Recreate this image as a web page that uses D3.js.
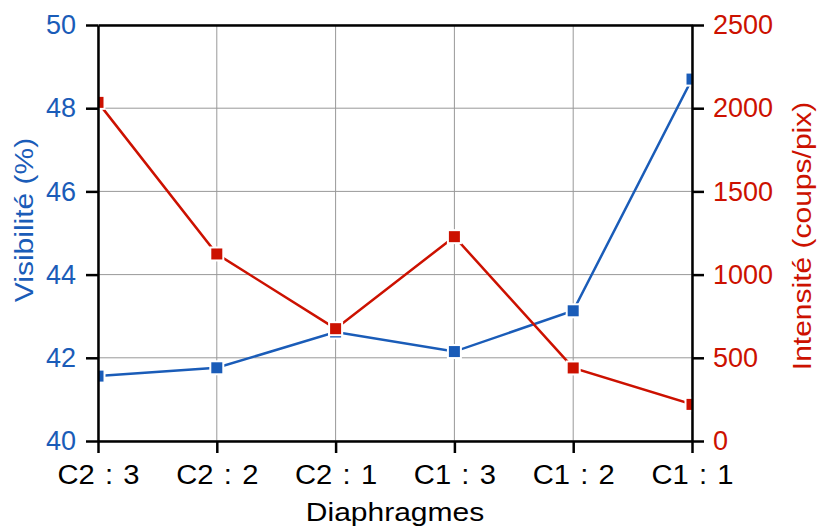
<!DOCTYPE html>
<html><head><meta charset="utf-8">
<script src="https://cdn.jsdelivr.net/npm/d3@7"></script>
<style>body{margin:0;background:#fff}svg{display:block}text{font-family:Arial,"Liberation Sans",sans-serif}</style>
</head><body><svg id="c" width="822" height="529"></svg>
<script>
const categories = ["C2 : 3","C2 : 2","C2 : 1","C1 : 3","C1 : 2","C1 : 1"];
const visibilite = [41.56, 41.76, 42.62, 42.15, 43.13, 48.70];
const intensite = [2035, 1124, 675, 1228, 439, 220];
const leftTicks = [40,42,44,46,48,50];
const rightTicks = [0,500,1000,1500,2000,2500];
const blue = "#1a5cb8", red = "#cc1100";
const svg = d3.select("#c");
const L=98, R=692, T=25, B=441;
const x = d3.scalePoint().domain(categories).range([L,R]);
const yL = d3.scaleLinear().domain([40,50]).range([B,T]);
const yR = d3.scaleLinear().domain([0,2500]).range([B,T]);
// grid
svg.append("g").selectAll("line").data(categories).join("line")
 .attr("x1",d=>x(d)).attr("x2",d=>x(d)).attr("y1",T).attr("y2",B).attr("stroke","#999").attr("stroke-width",1);
svg.append("g").selectAll("line").data(leftTicks).join("line")
 .attr("x1",L).attr("x2",R).attr("y1",d=>yL(d)).attr("y2",d=>yL(d)).attr("stroke","#999").attr("stroke-width",1);
svg.append("clipPath").attr("id","clip").append("rect").attr("x",L).attr("y",T).attr("width",R-L).attr("height",B-T);
const plot = svg.append("g").attr("clip-path","url(#clip)");
function series(vals, y, color){
  const g = plot.append("g");
  g.append("path").datum(vals).attr("fill","none").attr("stroke",color).attr("stroke-width",2.5)
   .attr("d", d3.line().x((d,i)=>x(categories[i])).y(d=>y(d)));
  g.selectAll("rect").data(vals).join("rect")
   .attr("x",(d,i)=>x(categories[i])-6.5).attr("y",d=>y(d)-6.5).attr("width",13).attr("height",13)
   .attr("fill",color).attr("stroke","#fff").attr("stroke-width",2);
}
series(visibilite, yL, blue);
series(intensite, yR, red);
// axes
const fs = "27px";
const ax = svg.append("g").attr("transform",`translate(${L},0)`).call(d3.axisLeft(yL).tickValues(leftTicks).tickFormat(d3.format("d")).tickSize(12).tickPadding(10).tickSizeOuter(0));
ax.selectAll("text").attr("fill",blue).style("font-size",fs);
const ar = svg.append("g").attr("transform",`translate(${R},0)`).call(d3.axisRight(yR).tickValues(rightTicks).tickFormat(d3.format("d")).tickSize(12).tickPadding(9).tickSizeOuter(0));
ar.selectAll("text").attr("fill",red).style("font-size",fs);
const ab = svg.append("g").attr("transform",`translate(0,${B})`).call(d3.axisBottom(x).tickSize(12).tickPadding(10).tickSizeOuter(0));
ab.selectAll("text").attr("fill","#000").style("font-size",fs).attr("dy","0.78em").attr("transform","scale(1.08,1)")
  .attr("x",function(){ return 0; });
ab.selectAll(".tick text").style("word-spacing","2px");
const at = svg.append("g").attr("transform",`translate(0,${T})`).call(d3.axisTop(x).tickSize(0).tickFormat("").tickSizeOuter(0));
[ax,ar,ab,at].forEach(a=>{a.selectAll("path,line").attr("stroke","#000").attr("stroke-width",2.5);});
svg.append("text").attr("transform",`translate(33,220) rotate(-90) scale(1.2,1)`).attr("text-anchor","middle")
 .attr("fill",blue).style("font-size","25px").text("Visibilité (%)");
svg.append("text").attr("transform",`translate(811,236) rotate(-90) scale(1.2,1)`).attr("text-anchor","middle")
 .attr("fill",red).style("font-size","25px").text("Intensité (coups/pix)");
svg.append("text").attr("transform",`translate(${(L+R)/2},521) scale(1.2,1)`).attr("text-anchor","middle")
 .attr("fill","#000").style("font-size","25px").text("Diaphragmes");
</script></body></html>
